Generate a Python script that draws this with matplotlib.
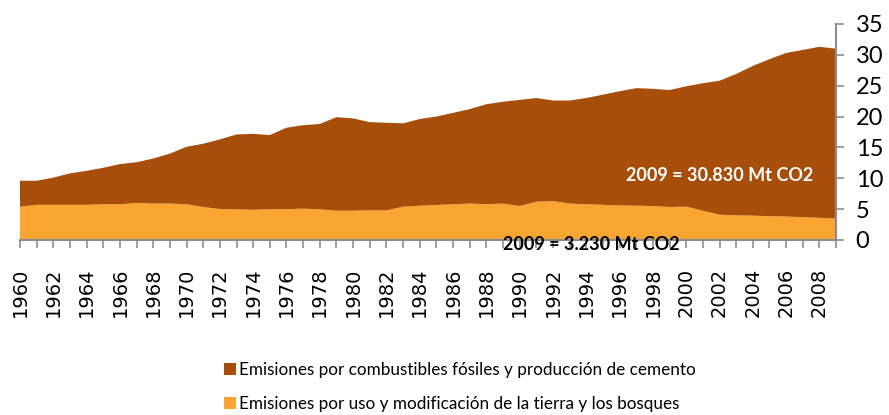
import matplotlib.pyplot as plt
from matplotlib.patches import Patch

# Emisiones globales de CO2 (miles de Mt)
years = list(range(1960, 2010))
land_use = [5.4, 5.7, 5.7, 5.7, 5.7, 5.8, 5.8, 6.0, 5.9, 5.9,
            5.8, 5.35, 5.0, 4.97, 4.9, 4.97, 5.0, 5.08, 4.97, 4.75,
            4.75, 4.8, 4.8, 5.4, 5.56, 5.67, 5.8, 5.9, 5.8, 5.9,
            5.5, 6.2, 6.3, 5.9, 5.8, 5.7, 5.6, 5.56, 5.5, 5.35,
            5.4, 4.75, 4.1, 4.0, 3.95, 3.85, 3.8, 3.7, 3.6, 3.45]
fossil = [4.2, 3.9, 4.4, 5.1, 5.5, 5.9, 6.5, 6.6, 7.3, 8.1,
          9.3, 10.25, 11.3, 12.13, 12.3, 12.03, 13.2, 13.52, 13.83, 15.15,
          14.95, 14.3, 14.2, 13.5, 14.04, 14.33, 14.8, 15.3, 16.2, 16.5,
          17.2, 16.8, 16.3, 16.7, 17.2, 17.85, 18.5, 19.04, 19.0, 18.95,
          19.5, 20.65, 21.7, 22.9, 24.25, 25.45, 26.5, 27.1, 27.7, 27.55]
label_years = list(range(1960, 2010, 2))

fossil_label = 'Emisiones por combustibles fósiles y producción de cemento'
land_label = 'Emisiones por uso y modificación de la tierra y los bosques'

brown = '#A64E0A'
orange = '#F9A532'
grey = '#8C8C8C'

fig = plt.figure(figsize=(8.89, 4.15), dpi=100)
ax = fig.add_axes([0.0225, 0.4217, 0.918, 0.5205])

ax.stackplot(years, land_use, fossil, colors=[orange, brown], linewidth=0)
ax.set_xlim(1960, 2009)
ax.set_ylim(0, 35)

# eje y a la derecha
ax.yaxis.tick_right()
ax.set_yticks(range(0, 36, 5))
ax.tick_params(axis='y', length=6, width=1.2, color=grey, pad=8,
               labelsize=17, labelfontfamily='Lato')
ax.set_xticks(years, minor=True)
ax.set_xticks(label_years)
ax.set_xticklabels([str(y) for y in label_years], rotation=90,
                   fontsize=14, family='DejaVu Sans')
ax.tick_params(axis='x', which='both', length=6, width=1.2, color=grey, pad=14)

for side in ['top', 'left']:
    ax.spines[side].set_visible(False)
for side in ['bottom', 'right']:
    ax.spines[side].set_color(grey)
    ax.spines[side].set_linewidth(1.5)

ax.text(2002.0, 10.5, '2009 = 30.830 Mt CO2', color='white', fontsize=13,
        fontweight='bold', family='Lato', ha='center', va='center')
ax.text(1994.3, -0.8, '2009 = 3.230 Mt CO2', color='black', fontsize=13,
        fontweight='bold', family='Lato', ha='center', va='center',
        clip_on=False)

handles = [Patch(facecolor=brown, edgecolor='none'),
           Patch(facecolor=orange, edgecolor='none')]
fig.legend(handles, [fossil_label, land_label], loc='upper left',
           bbox_to_anchor=(0.2425, 0.149), frameon=False,
           prop={'family': 'Lato', 'size': 12.3},
           handlelength=0.7, handleheight=0.7, handletextpad=0.15,
           labelspacing=1.08, borderpad=0)

fig.savefig('out.png', dpi=100)
